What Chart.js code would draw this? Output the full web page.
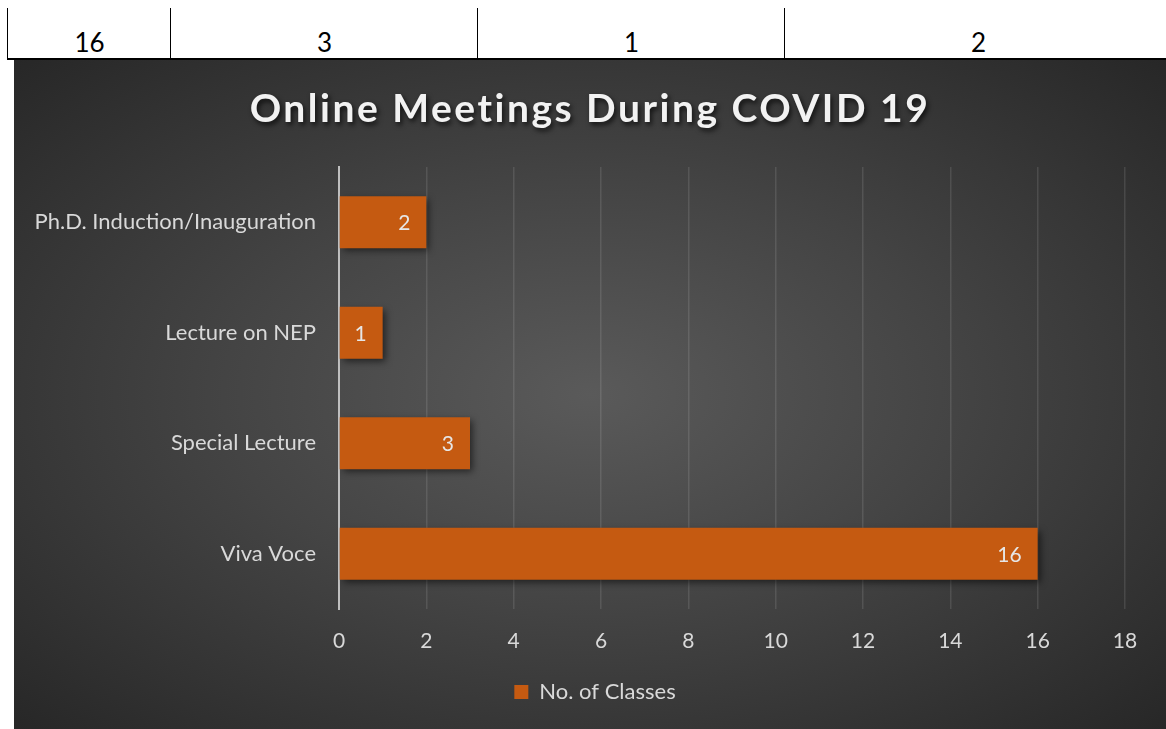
<!DOCTYPE html>
<html><head><meta charset="utf-8">
<script src="https://cdn.jsdelivr.net/npm/chart.js@4.4.1/dist/chart.umd.min.js"></script>
<style>
html,body{margin:0;padding:0;background:#fff;width:1166px;height:729px;overflow:hidden;font-family:Lato,sans-serif;}
.vl{position:absolute;top:8px;height:52px;width:1.4px;background:#000;}
.hl{position:absolute;left:7px;top:58px;height:2px;width:1159px;background:#000;}
.cell{position:absolute;top:25px;height:34px;line-height:34px;text-align:center;font-size:26px;color:#000;font-family:Lato,sans-serif;}
#chartBox{position:absolute;left:14px;top:60px;width:1152px;height:669px;
  background:radial-gradient(ellipse farthest-corner at 50% 50%, #5a5a5a 0%, #444 45%, #272727 100%);}
</style>
</head><body>
<div id="table"></div>
<div id="chartBox"><canvas id="c" width="1152" height="669"></canvas></div>
<script>
// ---- data ----
const categories = ['Viva Voce', 'Special Lecture', 'Lecture on NEP', 'Ph.D. Induction/Inauguration'];
const classCounts = [16, 3, 1, 2];
const seriesName = 'No. of Classes';
const chartTitle = 'Online Meetings During COVID 19';
const axisMin = 0, axisMax = 18, axisStep = 2;
const tableValues = [16, 3, 1, 2];

// ---- top table fragment ----
const cellEdges = [8, 171, 478, 785, 1172];
const tbl = document.getElementById('table');
cellEdges.slice(0, 4).forEach(x => {
  const v = document.createElement('div'); v.className = 'vl'; v.style.left = (x - 1) + 'px'; tbl.appendChild(v);
});
const h = document.createElement('div'); h.className = 'hl'; tbl.appendChild(h);
tableValues.forEach((val, i) => {
  const c = document.createElement('div'); c.className = 'cell';
  c.style.left = cellEdges[i] + 'px'; c.style.width = (cellEdges[i + 1] - cellEdges[i]) + 'px';
  c.textContent = val; tbl.appendChild(c);
});

// ---- plugins ----
const barDecor = {
  id: 'barDecor',
  beforeDatasetsDraw(chart) {
    const ctx = chart.ctx; ctx.save();
    ctx.shadowColor = 'rgba(0,0,0,0.55)'; ctx.shadowBlur = 7; ctx.shadowOffsetX = 3; ctx.shadowOffsetY = 3;
  },
  afterDatasetsDraw(chart) {
    const ctx = chart.ctx; ctx.restore();
    ctx.save();
    ctx.font = '21px Lato, sans-serif'; ctx.fillStyle = '#e6e6e6';
    ctx.textAlign = 'right'; ctx.textBaseline = 'middle';
    const meta = chart.getDatasetMeta(0);
    meta.data.forEach((bar, i) => {
      ctx.fillText(String(chart.data.datasets[0].data[i]), bar.x - 16, bar.y + 1);
    });
    ctx.restore();
  }
};
const legendShift = {
  id: 'legendShift',
  afterLayout(chart) {
    if (chart.legend) { chart.legend.left += 25.5; chart.legend.right += 25.5; }
  }
};
const titleDraw = {
  id: 'titleDraw',
  afterDraw(chart) {
    const ctx = chart.ctx; ctx.save();
    ctx.font = 'bold 39px Lato, sans-serif';
    ctx.letterSpacing = '2.5px';
    ctx.fillStyle = '#f2f2f2'; ctx.textAlign = 'center'; ctx.textBaseline = 'middle';
    ctx.shadowColor = 'rgba(0,0,0,0.7)'; ctx.shadowBlur = 5; ctx.shadowOffsetX = 2; ctx.shadowOffsetY = 3;
    ctx.fillText(chartTitle, 576, 49);
    ctx.restore();
  }
};

new Chart(document.getElementById('c'), {
  type: 'bar',
  data: {
    labels: categories,
    datasets: [{
      label: seriesName,
      data: classCounts,
      backgroundColor: '#C55A11',
      borderWidth: 0,
      categoryPercentage: 1,
      barPercentage: 0.47
    }]
  },
  options: {
    indexAxis: 'y',
    responsive: false,
    animation: false,
    devicePixelRatio: 1,
    layout: { padding: { left: 0, right: 41, top: 107, bottom: 16 } },
    scales: {
      x: {
        min: axisMin, max: axisMax,
        ticks: { stepSize: axisStep, color: '#d9d9d9', font: { family: 'Lato', size: 21 }, padding: 20 },
        grid: { color: 'rgba(255,255,255,0.11)', lineWidth: 1.5, drawTicks: false },
        border: { display: false },
        afterFit(s) { s.height = 62; }
      },
      y: {
        reverse: true,
        ticks: { color: '#d9d9d9', font: { family: 'Lato', size: 22 }, padding: 23 },
        grid: { display: false, drawTicks: false },
        border: { display: true, color: '#bfbfbf', width: 2 },
        afterFit(s) { s.width = 325; }
      }
    },
    plugins: {
      legend: {
        position: 'bottom',
        labels: { color: '#d9d9d9', font: { family: 'Lato', size: 22 }, boxWidth: 14, boxHeight: 14, padding: 10 }
      },
      title: { display: false },
      tooltip: { enabled: false }
    }
  },
  plugins: [barDecor, legendShift, titleDraw]
});
</script>
</body></html>
